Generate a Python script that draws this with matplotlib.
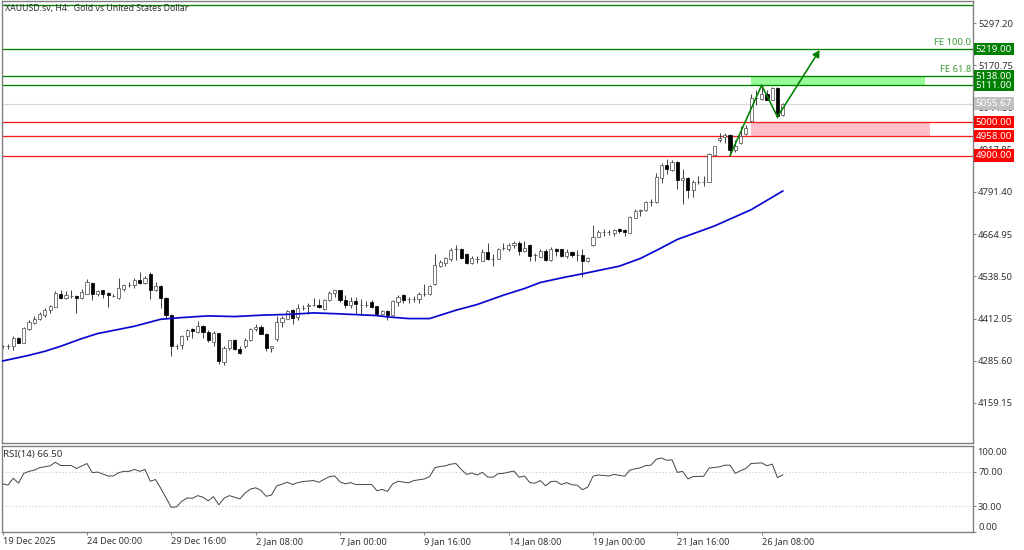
import matplotlib
matplotlib.use("Agg")
import matplotlib.pyplot as plt
from matplotlib.patches import FancyArrowPatch

plt.rcParams['font.family'] = ['Noto Sans', 'DejaVu Sans']

opens = [4329,4329,4329,4354,4340,4382,4399,4411,4424,4437,
 4447,4487,4475,4481,4480,4474,4487,4520,4485,4497,
 4489,4481,4474,4501,4514,4513,4526,4519,4545,4497,
 4509,4475,4423,4330,4333,4359,4380,4371,4389,4371,
 4342,4369,4283,4324,4349,4322,4330,4347,4381,4388,
 4367,4324,4352,4401,4412,4437,4416,4445,4450,4452,
 4452,4442,4467,4489,4497,4467,4452,4465,4454,4454,
 4461,4449,4425,4434,4422,4461,4484,4471,4471,4471,
 4485,4485,4517,4569,4579,4590,4619,4619,4605,4579,
 4591,4585,4612,4591,4591,4622,4619,4631,4637,4614,
 4633,4601,4597,4615,4587,4619,4619,4599,4611,4601,
 4602,4584,4632,4657,4671,4670,4667,4679,4677,4669,
 4714,4735,4737,4762,4761,4834,4871,4858,4881,4828,
 4834,4798,4822,4822,4822,4903,4946,4956,4961,4918,
 4938,4964,5004,5074,5069,5086,5068,5104,5021]
highs = [4332,4335,4359,4357,4387,4409,4419,4432,4445,4452,
 4495,4499,4495,4497,4482,4502,4529,4522,4499,4499,
 4492,4487,4532,4517,4521,4532,4551,4539,4552,4522,
 4512,4477,4425,4337,4363,4382,4385,4405,4392,4377,
 4374,4370,4329,4349,4352,4329,4355,4385,4395,4392,
 4369,4331,4420,4419,4439,4442,4457,4452,4459,4475,
 4472,4472,4495,4499,4499,4482,4477,4477,4472,4465,
 4467,4451,4439,4439,4467,4482,4486,4477,4479,4492,
 4517,4513,4604,4587,4597,4622,4632,4622,4607,4599,
 4599,4619,4637,4605,4624,4639,4639,4645,4645,4645,
 4635,4607,4619,4619,4625,4623,4621,4619,4614,4617,
 4621,4597,4692,4677,4679,4677,4681,4683,4679,4719,
 4739,4741,4765,4769,4847,4879,4889,4887,4884,4861,
 4836,4826,4838,4838,4908,4930,4968,4968,4964,4946,
 4988,4991,5086,5096,5111,5096,5106,5106,5058]
lows = [4325,4322,4319,4339,4339,4379,4397,4407,4417,4429,
 4447,4472,4471,4475,4430,4472,4485,4469,4479,4474,
 4447,4477,4471,4495,4507,4505,4517,4515,4471,4495,
 4445,4412,4301,4322,4322,4349,4355,4369,4355,4342,
 4329,4275,4272,4319,4317,4305,4325,4345,4375,4365,
 4315,4312,4345,4387,4410,4395,4409,4437,4427,4449,
 4445,4439,4465,4477,4462,4445,4445,4427,4422,4447,
 4445,4419,4422,4407,4420,4451,4459,4460,4461,4459,
 4481,4484,4513,4565,4569,4585,4587,4591,4575,4575,
 4579,4583,4587,4570,4589,4617,4615,4622,4602,4612,
 4584,4584,4595,4583,4585,4599,4595,4593,4595,4584,
 4537,4581,4630,4655,4659,4661,4660,4669,4659,4667,
 4712,4719,4734,4749,4759,4817,4845,4855,4801,4756,
 4774,4776,4814,4810,4820,4901,4941,4938,4901,4911,
 4934,4961,5001,5051,5066,5066,5066,5014,5018]
closes = [4330,4330,4355,4339,4385,4402,4412,4425,4439,4449,
 4489,4475,4483,4481,4474,4493,4521,4487,4495,4487,
 4483,4481,4505,4513,4514,4527,4520,4533,4497,4509,
 4473,4424,4329,4330,4361,4379,4374,4389,4371,4347,
 4369,4285,4325,4347,4320,4309,4349,4382,4388,4367,
 4323,4329,4403,4413,4435,4415,4444,4445,4454,4452,
 4446,4469,4490,4497,4467,4452,4465,4455,4454,4454,
 4447,4427,4434,4424,4465,4477,4467,4471,4471,4485,
 4485,4510,4571,4582,4592,4617,4619,4594,4579,4592,
 4591,4612,4590,4591,4621,4622,4633,4637,4614,4622,
 4600,4601,4615,4587,4619,4615,4599,4612,4601,4601,
 4585,4592,4657,4672,4671,4670,4677,4674,4671,4715,
 4734,4738,4762,4762,4836,4871,4861,4881,4828,4834,
 4798,4822,4822,4822,4906,4928,4954,4961,4918,4928,
 4958,4984,5074,5074,5086,5068,5104,5018,5056]

ma_bars = [0,5,8,11,15,18,25,30,34,39,44,49,55,59,64,71,73,77,81,86,90,95,99,102,107,110,117,121,125,128,135,142,148]
ma_values = [4285,4302,4314,4329,4352,4367,4389,4410,4415,4420,4418,4422,4425,4429,4426,4421,4417,4412,4412,4437,4454,4482,4502,4520,4537,4546,4569,4592,4624,4649,4689,4738,4794]

rsi_bars = [0,1,2,3,4,5,6,7,9,10,
 11,13,14,16,17,18,20,21,22,23,
 24,25,26,27,28,29,30,31,32,33,
 34,35,36,37,38,39,40,41,42,43,
 44,45,46,47,48,49,50,51,52,53,
 54,55,56,57,59,60,61,62,63,64,
 65,66,67,70,71,72,73,74,75,77,
 78,80,81,82,83,84,85,86,87,88,
 89,90,91,92,93,94,95,97,98,99,
 100,101,102,103,104,105,106,107,108,109,
 110,111,112,113,115,116,118,119,120,121,
 122,123,124,125,126,127,128,129,130,131,
 133,134,136,137,138,139,140,141,142,144,
 145,146,147,148]
rsi_values = [56.0,54.5,62.5,56.8,68.2,70.5,72.0,74.7,77.0,81.1,
 77.3,77.3,73.9,79.6,69.0,69.7,65.1,65.1,69.0,70.5,
 70.5,72.8,70.5,72.8,59.0,61.0,50.7,39.6,28.6,29.3,
 35.8,39.6,39.2,42.3,40.4,36.2,41.1,31.6,39.2,42.3,
 40.4,38.5,45.3,49.9,51.4,48.4,41.5,43.0,53.7,55.6,
 57.9,55.2,57.5,58.7,59.8,57.9,61.3,64.4,65.1,58.3,
 56.0,57.5,55.2,55.2,48.0,49.5,47.2,56.0,59.0,57.1,
 59.8,61.7,64.4,74.7,76.2,77.0,78.9,79.6,72.8,67.0,
 68.6,66.3,69.3,64.0,63.6,67.8,68.2,70.9,63.6,65.1,
 57.5,56.8,59.8,53.7,58.7,59.0,55.2,57.5,54.9,54.5,
 49.1,52.2,64.8,66.3,65.1,67.0,64.8,72.0,73.5,74.7,
 77.3,77.7,84.6,86.1,83.4,83.8,69.3,70.5,61.7,64.4,
 64.8,74.3,75.8,77.7,77.7,68.2,71.3,73.9,79.6,80.4,
 77.0,78.9,63.2,66.5]
rsi_levels = [70, 30]

price_ticks = [5297.20,5170.75,5044.30,4917.85,4791.40,4664.95,4538.50,4412.05,4285.60,4159.15]
time_ticks = [0,16,32,48,64,80,96,112,128,144]
time_labels = ['19 Dec 2025','24 Dec 00:00','29 Dec 16:00','2 Jan 08:00','7 Jan 00:00','9 Jan 16:00','14 Jan 08:00','19 Jan 00:00','21 Jan 16:00','26 Jan 08:00']

green_levels = [5352, 5219, 5138, 5111]
red_levels = [5000, 4958, 4900]
bid = 5055.67
wave_bars = [138, 144, 147]
wave_prices = [4900, 5111, 5016]
target_bar, target_price = 155, 5216
zone_buy = (142, 175, 5111, 5138)
zone_sell = (142, 176, 4958, 5000)

W, H = 1024, 550
fig = plt.figure(figsize=(W/100, H/100), dpi=100, facecolor='white')
L, R = 2.0, 972.5
ax = fig.add_axes([L/W, 1-443/H, (R-L)/W, 442/H])
rx = fig.add_axes([L/W, 1-532/H, (R-L)/W, 86/H])
FS = 6.8
TXT = '#333333'
for a in (ax, rx):
    a.set_xlim(-0.13, 184.0)
    a.set_facecolor('white')
    for s in a.spines.values():
        s.set_color('#808080'); s.set_linewidth(1.0)
    a.yaxis.tick_right()
    a.tick_params(axis='y', length=2, width=0.7, color='#808080', labelsize=FS, labelcolor=TXT, pad=2)
ax.set_ylim(4039.3, 5363.1)
ax.set_xticks([])
ax.set_yticks(price_ticks)
ax.set_yticklabels([f'{p:.2f}' for p in price_ticks])

# zones
for (x0, x1, y0, y1), col in ((zone_buy, '#98FB98'), (zone_sell, '#FFC0CB')):
    ax.fill_between([x0, x1], y0, y1, color=col, lw=0, zorder=1)

# levels
for v in green_levels:
    ax.axhline(v, color='#008000', lw=0.95, zorder=1.5)
for v in red_levels:
    ax.axhline(v, color='#EE2020', lw=0.95, zorder=1.5)
ax.axhline(bid, color='#D8D8D8', lw=0.9, zorder=1.2)

# candles
for i, (o, h, l, c) in enumerate(zip(opens, highs, lows, closes)):
    ax.vlines(i, l, h, color='#333333', lw=0.65, zorder=2)
    up = c >= o
    ax.bar(i, abs(c-o), bottom=min(o, c), width=0.6,
           facecolor='white' if up else 'black', edgecolor='#555555' if up else 'black',
           lw=0.55, zorder=2.2)

ax.plot(ma_bars, ma_values, color='#0808D0', lw=1.25, zorder=3)

# wave + arrow
ax.plot(wave_bars, wave_prices, color='#008000', lw=1.15, zorder=4)
ax.add_patch(FancyArrowPatch((wave_bars[-1], wave_prices[-1]), (target_bar, target_price),
             arrowstyle='-|>,head_length=4,head_width=2.2', color='#008000', lw=1.15,
             shrinkA=0, shrinkB=0, zorder=4))

# labels
ax.text(0.003, 0.984, 'XAUUSD.sv, H4:  Gold vs United States Dollar', transform=ax.transAxes,
        fontsize=6.3, color=TXT, va='center', ha='left')
trans = ax.get_yaxis_transform()
ax.text(0.9985, 5238, 'FE 100.0', transform=trans, ha='right', va='center', fontsize=FS, color='#3C9A3C')
ax.text(0.9985, 5157, 'FE 61.8', transform=trans, ha='right', va='center', fontsize=FS, color='#3C9A3C')

def tag(y, txt, bg):
    ax.text(1.0033, y, txt, transform=trans, ha='left', va='center', fontsize=7.0, color='white',
            clip_on=False, zorder=6,
            bbox=dict(boxstyle='square,pad=0.17', fc=bg, ec='none'))
for v in (5219, 5138, 5111):
    tag(v, f'{v:.2f}', '#008000')
for v in red_levels:
    tag(v, f'{v:.2f}', '#FF0000')
tag(bid, f'{bid:.2f}', '#C0C0C0')

# RSI
rx.set_ylim(0, 100)
rx.plot(rsi_bars, rsi_values, color='#444444', lw=0.7, zorder=3)
for v in rsi_levels:
    rx.axhline(v, color='#C8C8C8', lw=0.8, ls=(0, (1, 2)), zorder=1)
rx.set_yticks([70, 30, 0])
labs = rx.set_yticklabels(['70.00', '30.00', '0.00'])
labs[2].set_va('bottom')
rx.text(1.0046, 93, '100.00', transform=rx.get_yaxis_transform(), fontsize=FS, color=TXT,
        va='center', ha='left', clip_on=False)
rx.text(0.0015, 0.90, f'RSI(14) {rsi_values[-1]:.2f}', transform=rx.transAxes, fontsize=7.0, color=TXT, va='center', ha='left')
rx.set_xticks(time_ticks)
xl = rx.set_xticklabels(time_labels, ha='left', fontsize=6.6, color=TXT)
rx.tick_params(axis='x', length=2, width=0.7, color='#808080', pad=1.5)

fig.savefig('out.png', dpi=100, facecolor='white')
